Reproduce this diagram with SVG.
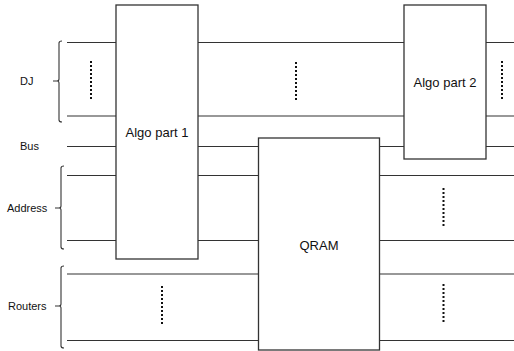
<svg xmlns="http://www.w3.org/2000/svg" width="514" height="351" viewBox="0 0 514 351">
<style>
.wire{stroke:#333;stroke-width:1.2;fill:none}
.box{fill:#fff;stroke:#333;stroke-width:1.3}
.brace{fill:none;stroke:#333;stroke-width:1.1}
.dots{stroke:#111;stroke-width:2;stroke-dasharray:2 2;fill:none}
.lbl{font-family:"Liberation Sans",Arial,sans-serif;font-size:11px;fill:#111}
.blbl{font-family:"Liberation Sans",Arial,sans-serif;font-size:13px;fill:#111;text-anchor:middle}
</style>
<rect width="514" height="351" fill="#fff"/>
<g id="connectors">
<line class="wire" x1="67" y1="42.5" x2="514" y2="42.5"/>
<line class="wire" x1="67" y1="116" x2="514" y2="116"/>
<line class="wire" x1="67" y1="146.5" x2="514" y2="146.5"/>
<line class="wire" x1="67" y1="175.5" x2="514" y2="175.5"/>
<line class="wire" x1="67" y1="240.5" x2="514" y2="240.5"/>
<line class="wire" x1="67" y1="274" x2="514" y2="274"/>
<line class="wire" x1="67" y1="340.5" x2="514" y2="340.5"/>
<line class="dots" x1="91" y1="61" x2="91" y2="101"/>
<line class="dots" x1="296" y1="62" x2="296" y2="102"/>
<line class="dots" x1="502" y1="61" x2="502" y2="101"/>
<line class="dots" x1="443.5" y1="188" x2="443.5" y2="228"/>
<line class="dots" x1="162" y1="286" x2="162" y2="326"/>
<line class="dots" x1="443.5" y1="284" x2="443.5" y2="324"/>
</g>
<g id="dj">
<path class="brace" d="M62,41 Q59,41 59,43 L59,79 Q59,81 57,81 L53,81 M57,81 Q59,81 59,83 L59,120 Q59,122 62,122"/>
<text class="lbl" x="20" y="85">DJ</text>
</g>
<g id="bus">
<text class="lbl" x="20" y="150">Bus</text>
</g>
<g id="address">
<path class="brace" d="M64,166 Q61,166 61,168 L61,206 Q61,208 59,208 L55,208 M59,208 Q61,208 61,210 L61,247 Q61,249 64,249"/>
<text class="lbl" x="7" y="212">Address</text>
</g>
<g id="routers">
<path class="brace" d="M64,266 Q61,266 61,268 L61,304 Q61,306 59,306 L55,306 M59,306 Q61,306 61,308 L61,346 Q61,348 64,348"/>
<text class="lbl" x="8" y="310">Routers</text>
</g>
<g id="algo1">
<rect class="box" x="116" y="5" width="82" height="254"/>
<text class="blbl" x="157" y="137">Algo part 1</text>
</g>
<g id="algo2">
<rect class="box" x="404" y="5" width="82" height="154"/>
<text class="blbl" x="445" y="87">Algo part 2</text>
</g>
<g id="qram">
<rect class="box" x="258.5" y="138" width="121" height="212"/>
<text class="blbl" x="319" y="250">QRAM</text>
</g>
</svg>
